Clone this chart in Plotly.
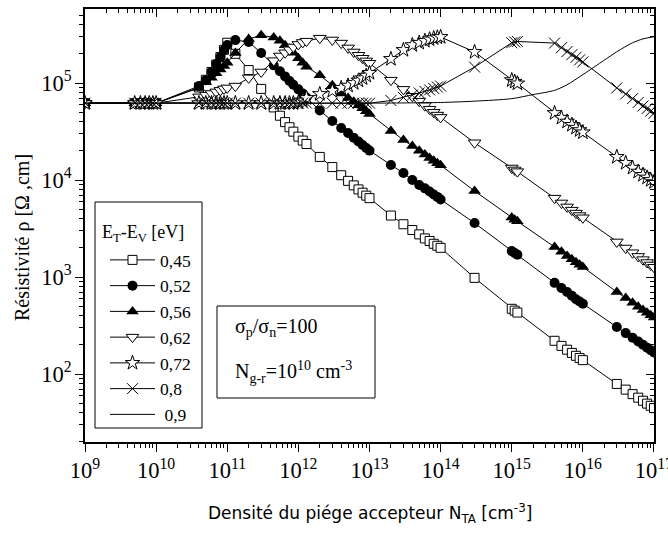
import plotly.graph_objects as go

# Acceptor trap density N_TA [cm^-3] shared by the marker series
n_ta = [1e9, 5e9, 6e9, 7e9, 8e9, 9e9, 1e10,
        4e10, 5e10, 6e10, 7e10, 8e10, 9e10,
        1e11, 1.3e11, 2e11, 3e11, 4.5e11, 5.5e11, 6.5e11, 7.5e11, 8.5e11, 1e12, 1.15e12, 1.3e12,
        2e12, 3e12, 4e12, 5e12, 6e12, 7e12, 8e12, 9e12, 1e13,
        2e13, 3e13, 4e13, 5e13, 6e13, 7e13, 8e13, 9e13, 1e14,
        3e14, 1e15, 1.1e15, 1.2e15,
        4e15, 5e15, 6e15, 7e15, 8e15, 9e15, 1e16,
        3e16, 4e16, 5e16, 6e16, 7e16, 8e16, 9e16, 1e17]

# Resistivity [Ohm.cm] for each trap level E_T - E_V
rho_045 = [6.2e4, 6.2e4, 6.2e4, 6.2e4, 6.2e4, 6.2e4, 6.2e4,
           9.0e4, 1.08e5, 1.3e5, 1.55e5, 1.85e5, 2.2e5,
           2.6e5, 2.0e5, 1.36e5, 8.7e4, 5.6e4, 4.6e4, 3.95e4, 3.5e4, 3.15e4, 2.8e4, 2.55e4, 2.35e4,
           1.73e4, 1.36e4, 1.12e4, 9.8e3, 8.8e3, 8.0e3, 7.4e3, 6.9e3, 6.5e3,
           4.3e3, 3.5e3, 3.05e3, 2.75e3, 2.5e3, 2.35e3, 2.2e3, 2.1e3, 2.0e3,
           9.8e2, 4.7e2, 4.5e2, 4.3e2,
           2.2e2, 1.95e2, 1.78e2, 1.65e2, 1.54e2, 1.46e2, 1.39e2,
           79, 69, 62, 57, 53, 49.5, 47, 44.5]

rho_052 = [6.2e4, 6.2e4, 6.2e4, 6.2e4, 6.2e4, 6.2e4, 6.2e4,
           9.3e4, 1.07e5, 1.3e5, 1.57e5, 1.85e5, 2.19e5,
           2.46e5, 2.77e5, 2.65e5, 2.04e5, 1.52e5, 1.32e5, 1.17e5, 1.05e5, 9.6e4, 8.6e4, 7.8e4, 7.1e4,
           5.2e4, 4.06e4, 3.44e4, 3.05e4, 2.73e4, 2.49e4, 2.3e4, 2.14e4, 2.01e4,
           1.43e4, 1.18e4, 1.0e4, 8.9e3, 8.2e3, 7.6e3, 7.1e3, 6.7e3, 6.3e3,
           3.6e3, 1.85e3, 1.77e3, 1.7e3,
           8.7e2, 7.7e2, 7.0e2, 6.4e2, 5.9e2, 5.6e2, 5.3e2,
           3.05e2, 2.64e2, 2.36e2, 2.16e2, 2.0e2, 1.87e2, 1.76e2, 1.67e2]

rho_056 = [6.2e4, 6.2e4, 6.2e4, 6.2e4, 6.2e4, 6.2e4, 6.2e4,
           8.9e4, 1.02e5, 1.13e5, 1.26e5, 1.38e5, 1.5e5,
           1.62e5, 2.04e5, 2.85e5, 3.1e5, 2.95e5, 2.72e5, 2.45e5, 2.25e5, 2.05e5, 1.8e5, 1.62e5, 1.47e5,
           1.2e5, 9.5e4, 7.8e4, 7.0e4, 6.4e4, 5.9e4, 5.5e4, 5.1e4, 4.8e4,
           3.2e4, 2.58e4, 2.24e4, 2.0e4, 1.83e4, 1.69e4, 1.58e4, 1.49e4, 1.42e4,
           7.7e3, 4.1e3, 3.9e3, 3.75e3,
           2.04e3, 1.82e3, 1.65e3, 1.52e3, 1.42e3, 1.34e3, 1.27e3,
           7.0e2, 6.06e2, 5.42e2, 4.95e2, 4.58e2, 4.29e2, 4.04e2, 3.83e2]

rho_062 = [6.2e4, 6.2e4, 6.2e4, 6.2e4, 6.2e4, 6.2e4, 6.2e4,
           7.2e4, 7.5e4, 7.8e4, 8.1e4, 8.4e4, 8.7e4,
           8.9e4, 9.3e4, 1.13e5, 1.3e5, 1.7e5, 1.9e5, 2.05e5, 2.2e5, 2.35e5, 2.5e5, 2.62e5, 2.7e5,
           2.9e5, 2.78e5, 2.58e5, 2.3e5, 2.09e5, 1.93e5, 1.8e5, 1.69e5, 1.6e5,
           1.07e5, 8.6e4, 7.3e4, 6.5e4, 5.85e4, 5.37e4, 4.99e4, 4.67e4, 4.42e4,
           2.42e4, 1.33e4, 1.27e4, 1.22e4,
           6.5e3, 5.8e3, 5.28e3, 4.89e3, 4.56e3, 4.3e3, 4.08e3,
           2.3e3, 1.99e3, 1.78e3, 1.63e3, 1.51e3, 1.41e3, 1.33e3, 1.26e3]

rho_072 = [6.2e4, 6.2e4, 6.2e4, 6.2e4, 6.2e4, 6.2e4, 6.2e4,
           6.2e4, 6.2e4, 6.2e4, 6.2e4, 6.2e4, 6.2e4,
           6.2e4, 6.2e4, 6.2e4, 6.2e4, 6.2e4, 6.2e4, 6.2e4, 6.2e4, 6.2e4, 6.3e4, 6.6e4, 7.0e4,
           7.7e4, 8.3e4, 8.9e4, 9.4e4, 1.0e5, 1.06e5, 1.12e5, 1.19e5, 1.27e5,
           1.77e5, 2.19e5, 2.46e5, 2.6e5, 2.72e5, 2.82e5, 2.9e5, 2.95e5, 2.98e5,
           2.09e5, 1.07e5, 1.03e5, 9.9e4,
           4.9e4, 4.38e4, 4.0e4, 3.7e4, 3.46e4, 3.27e4, 3.1e4,
           1.73e4, 1.5e4, 1.34e4, 1.22e4, 1.13e4, 1.06e4, 1.0e4, 9.5e3]

rho_080 = [6.2e4, 6.2e4, 6.2e4, 6.2e4, 6.2e4, 6.2e4, 6.2e4,
           6.2e4, 6.2e4, 6.2e4, 6.2e4, 6.2e4, 6.2e4,
           6.2e4, 6.2e4, 6.2e4, 6.2e4, 6.2e4, 6.2e4, 6.2e4, 6.2e4, 6.2e4, 6.2e4, 6.2e4, 6.2e4,
           6.2e4, 6.2e4, 6.2e4, 6.2e4, 6.2e4, 6.2e4, 6.2e4, 6.2e4, 6.2e4,
           6.6e4, 7.1e4, 7.5e4, 7.9e4, 8.2e4, 8.5e4, 8.8e4, 9.1e4, 9.3e4,
           1.46e5, 2.6e5, 2.65e5, 2.68e5,
           2.58e5, 2.31e5, 2.11e5, 1.96e5, 1.84e5, 1.73e5, 1.65e5,
           8.9e4, 7.7e4, 6.9e4, 6.3e4, 5.8e4, 5.45e4, 5.14e4, 4.87e4]

# The 0,9 eV level is drawn as a plain curve
n_ta_090 = [1e9, 1e10, 1e11, 1e12, 1e13, 1e14, 3e14, 1e15, 2e15, 4e15, 6e15,
            1e16, 2e16, 3e16, 5e16, 7e16, 1e17]
rho_090 = [6.2e4, 6.2e4, 6.2e4, 6.2e4, 6.2e4, 6.3e4, 6.5e4, 6.9e4, 7.6e4, 8.4e4, 9.6e4,
           1.22e5, 1.72e5, 2.1e5, 2.6e5, 2.85e5, 3.0e5]

level_labels = ["0,45", "0,52", "0,56", "0,62", "0,72", "0,8", " 0,9"]

SERIF = "Liberation Serif"
SANS = "DejaVu Sans"

marker_styles = [
    dict(symbol="square", size=9, color="white", line=dict(color="black", width=1)),
    dict(symbol="circle", size=10, color="black"),
    dict(symbol="triangle-up", size=11, color="black"),
    dict(symbol="triangle-down", size=11, color="white", line=dict(color="black", width=1)),
    dict(symbol="star", size=11, color="white", line=dict(color="black", width=1)),
    dict(symbol="x-thin", size=11, color="black", line=dict(color="black", width=1)),
]

series = [rho_045, rho_052, rho_056, rho_062, rho_072, rho_080]

fig = go.Figure()
for label, rho, mk in zip(level_labels[:6], series, marker_styles):
    fig.add_trace(go.Scatter(
        x=n_ta, y=rho, mode="lines+markers", name=label,
        line=dict(color="black", width=1), marker=mk,
    ))
fig.add_trace(go.Scatter(
    x=n_ta_090, y=rho_090, mode="lines", name=level_labels[6],
    line=dict(color="black", width=1, shape="spline", smoothing=0.8),
))
# carrier for the top / right frame axes
fig.add_trace(go.Scatter(x=[], y=[], xaxis="x2", yaxis="y2",
                         showlegend=False, hoverinfo="skip"))

x_range = [9, 17.0001]
y_range = [1.299, 5.763]


def log_axis(rng, ticks, labels):
    return dict(
        type="log", range=rng, dtick=1, exponentformat="power",
        showgrid=False, zeroline=False, showline=True, automargin=False,
        linecolor="black", linewidth=1.8,
        ticks=ticks, ticklen=8, tickwidth=1.2, tickcolor="black",
        showticklabels=labels, ticklabeloverflow="allow",
        tickfont=dict(family=SERIF, size=18, color="black"),
        minor=dict(dtick="D1", ticks=ticks, ticklen=4, tickwidth=1,
                   tickcolor="black", showgrid=False),
    )


def px_x(px):
    # horizontal pixel -> paper fraction of the 85..654 plot area
    return (px - 85) / 569


def px_y(py):
    # vertical pixel -> paper fraction of the 9..442 plot area
    return (442 - py) / 433


fig.update_layout(
    width=668, height=536,
    margin=dict(l=85, r=14, t=9, b=94, autoexpand=False),
    paper_bgcolor="white", plot_bgcolor="white",
    xaxis=log_axis(x_range, "outside", True),
    yaxis=log_axis(y_range, "outside", True),
    xaxis2=dict(log_axis(x_range, "inside", False), overlaying="x", side="top", anchor="y2"),
    yaxis2=dict(log_axis(y_range, "inside", False), overlaying="y", side="right", anchor="x2"),
    showlegend=True,
    legend=dict(
        x=px_x(105), y=px_y(242), xanchor="left", yanchor="top",
        bgcolor="rgba(0,0,0,0)", borderwidth=0,
        font=dict(family=SERIF, size=17.5, color="black"),
        tracegroupgap=0, itemwidth=45,
    ),
    shapes=[
        # legend frame
        dict(type="rect", xref="paper", yref="paper",
             x0=px_x(95), x1=px_x(202), y0=px_y(428), y1=px_y(202),
             line=dict(color="black", width=1), fillcolor="white", layer="below"),
        # parameter box
        dict(type="rect", xref="paper", yref="paper",
             x0=px_x(217), x1=px_x(375), y0=px_y(398), y1=px_y(306),
             line=dict(color="black", width=1), fillcolor="white", layer="below"),
    ],
    annotations=[
        dict(text="E<sub>T</sub>-E<sub>V</sub> [eV]", xref="paper", yref="paper",
             x=px_x(100), y=px_y(233), xanchor="left", yanchor="middle", showarrow=False,
             font=dict(family=SERIF, size=18, color="black")),
        dict(text="σ<sub>p</sub>/σ<sub>n</sub>=100", xref="paper", yref="paper",
             x=px_x(233), y=px_y(327), xanchor="left", yanchor="middle", showarrow=False,
             font=dict(family=SERIF, size=20, color="black")),
        dict(text="N<sub>g-r</sub>=10<sup>10</sup> cm<sup>-3</sup>", xref="paper", yref="paper",
             x=px_x(233), y=px_y(372), xanchor="left", yanchor="middle", showarrow=False,
             font=dict(family=SERIF, size=20, color="black")),
        dict(text="Résistivité ρ [Ω ,cm]", xref="paper", yref="paper",
             x=px_x(22), y=px_y(238), textangle=-90, showarrow=False,
             xanchor="center", yanchor="middle",
             font=dict(family=SERIF, size=20, color="black")),
        dict(text="Densité du piége accepteur N<sub>TA</sub> [cm<sup>-3</sup>]",
             xref="paper", yref="paper", x=0.5, y=px_y(513), showarrow=False,
             xanchor="center", yanchor="middle",
             font=dict(family=SANS, size=17, color="black")),
    ],
)

fig.write_html("out.html")
